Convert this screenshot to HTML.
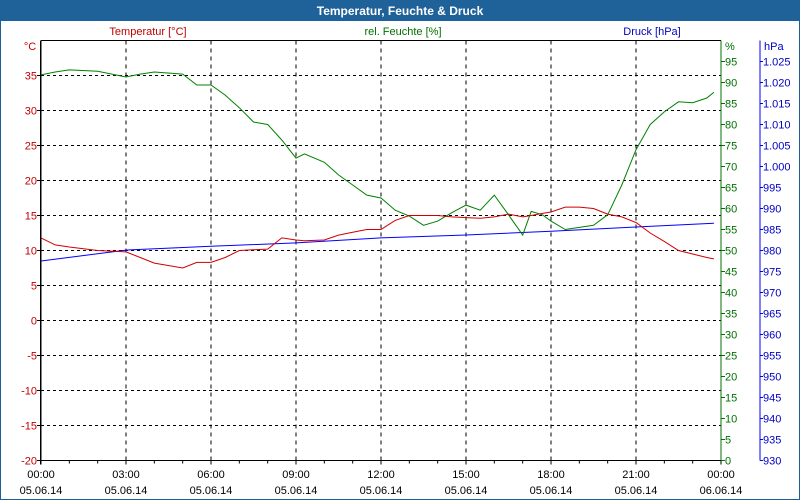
<!DOCTYPE html>
<html><head><meta charset="utf-8"><style>
body{margin:0;background:#fff;}
#wrap{position:relative;width:800px;height:500px;overflow:hidden;font-family:"Liberation Sans",sans-serif;}
svg text{font-family:"Liberation Sans",sans-serif;font-size:11px;}
</style></head><body>
<div id="wrap">
<svg id="c" width="800" height="500">
<rect x="0.5" y="0.5" width="799" height="499" fill="#fff" stroke="#1f5f96"/>
<rect x="0" y="0" width="800" height="21" fill="#1f6199"/>
<text x="400" y="15" text-anchor="middle" fill="#fff" font-weight="bold" style="font-size:12px">Temperatur, Feuchte &amp; Druck</text>
<text x="148" y="35" text-anchor="middle" fill="#c00000">Temperatur [°C]</text>
<text x="403" y="35" text-anchor="middle" fill="#007000">rel. Feuchte [%]</text>
<text x="652" y="35" text-anchor="middle" fill="#0000c0">Druck [hPa]</text>
<text x="30" y="50" text-anchor="middle" fill="#c00000">°C</text>
<text x="725" y="50" fill="#007000">%</text>
<text x="764" y="50" fill="#0000c0">hPa</text>
<g id="g"></g>
</svg>
</div>
<script>
const hours = [0,0.5,1,2,3,3.5,4,5,5.5,6,6.5,7,7.5,8,8.5,9,9.3,10,10.5,11,11.5,12,12.5,13,13.5,14,14.5,15,15.5,16,16.5,17,17.3,17.7,18,18.5,19,19.5,20,20.5,21,21.5,22,22.5,23,23.5,23.75];
const tempValues = [11.8,10.8,10.5,10.0,9.8,9.0,8.2,7.5,8.3,8.3,9.0,10.0,10.1,10.2,11.8,11.5,11.4,11.5,12.2,12.6,13.0,13.0,14.3,15.0,15.0,15.0,14.8,14.7,14.6,14.8,15.2,14.8,15.0,15.3,15.5,16.2,16.2,16.0,15.2,14.8,14.0,12.5,11.3,10.0,9.5,9.0,8.8];
const humValues = [91.8,92.5,93,92.7,91.3,92,92.5,92,89.4,89.4,87,84,80.6,80,76.3,72,73,71,68,65.6,63.2,62.5,59.6,58.2,56,57,59,60.8,59.6,63.2,58.5,53.7,59.3,58.5,57,55,55.5,56,58.5,65.6,74,80,83,85.4,85.2,86.3,87.7];
const presHours = [0,3,6,9,12,15,18,21,23.75];
const presValues = [977.5,980.1,981,981.8,983,983.7,984.6,985.6,986.5];
const tempTicks = [35,30,25,20,15,10,5,0,-5,-10,-15,-20];
const humTicks = [95,90,85,80,75,70,65,60,55,50,45,40,35,30,25,20,15,10,5,0];
const presTicks = ["1.025","1.020","1.015","1.010","1.005","1.000","995","990","985","980","975","970","965","960","955","950","945","940","935","930"];
const timeLabels = ["00:00","03:00","06:00","09:00","12:00","15:00","18:00","21:00","00:00"];
const dateLabels = ["05.06.14","05.06.14","05.06.14","05.06.14","05.06.14","05.06.14","05.06.14","05.06.14","06.06.14"];

const L=41,R=721,T=40.5,B=460.5;
const xS=h=>L+h*(R-L)/24;
const yT=v=>T+(40-v)*(B-T)/60;
const yH=v=>B-v*(B-T)/100;
const yP=v=>B-(v-930)*(B-T)/100;
const g=document.getElementById('g');
const NS='http://www.w3.org/2000/svg';
function mk(tag,attrs){const e=document.createElementNS(NS,tag);for(const k in attrs)e.setAttribute(k,attrs[k]);g.appendChild(e);return e;}

// grid
tempTicks.forEach(v=>{ if(v===-20) return;
  const e=mk('line',{x1:L,x2:R,y1:yT(v),y2:yT(v),stroke:'#000','stroke-dasharray':'3,3'});
  
  
});
for(let i=1;i<8;i++){
  const e=mk('line',{x1:xS(i*3),x2:xS(i*3),y1:T,y2:B,stroke:'#000','stroke-dasharray':'4,4'});
  
  
}
// axes
let a=mk('line',{x1:L-0.5,x2:L-0.5,y1:T,y2:B+4,stroke:'#000'});

a=mk('line',{x1:L-4,x2:R,y1:B,y2:B,stroke:'#000'});

a=mk('line',{x1:R,x2:R,y1:T,y2:B+3,stroke:'#007000'});

a=mk('line',{x1:760,x2:760,y1:T,y2:B,stroke:'#0000ff'});

a=mk('line',{x1:L,x2:L,y1:T,y2:B,stroke:'#000'});

a=mk('line',{x1:L,x2:R,y1:T,y2:T,stroke:'#000'});

for(let h=0;h<=24;h++){
  const e=mk('line',{x1:xS(h),x2:xS(h),y1:B,y2:B+(h%3===0?4:3),stroke:'#000'});
  
  
}
tempTicks.forEach(v=>{
  const t=mk('text',{x:37,y:yT(v)+4,'text-anchor':'end',fill:'#c00000'});t.textContent=v;
  
  
  const k=mk('line',{x1:L-4,x2:L,y1:yT(v),y2:yT(v),stroke:'#000'});
  
  
});
humTicks.forEach(v=>{
  const t=mk('text',{x:725,y:yH(v)+4,fill:'#007000'});t.textContent=v;
  
  
  const k=mk('line',{x1:R,x2:R+4,y1:yH(v),y2:yH(v),stroke:'#007000'});
  
  
});
presTicks.forEach((s,i)=>{
  const v=1025-i*5;
  const t=mk('text',{x:763,y:yP(v)+4,fill:'#0000c0'});t.textContent=s;
  
  
  const k=mk('line',{x1:760,x2:763,y1:yP(v),y2:yP(v),stroke:'#0000ff'});
  
  
});
timeLabels.forEach((s,i)=>{
  const t=mk('text',{x:xS(i*3),y:478,'text-anchor':'middle',fill:'#000'});t.textContent=s;
  
  
  const d=mk('text',{x:xS(i*3),y:494,'text-anchor':'middle',fill:'#000'});d.textContent=dateLabels[i];
  
  
});
function line(xs,vals,yf,col,name){
  const p=xs.map((h,i)=>xS(h).toFixed(1)+','+yf(vals[i]).toFixed(1)).join(' ');
  const e=mk('polyline',{points:p,fill:'none',stroke:col,'stroke-width':1});
  
  
}
line(presHours,presValues,yP,'#0000ff','pressure-line');
line(hours,humValues,yH,'#008000','humidity-line');
line(hours,tempValues,yT,'#d00000','temperature-line');
</script>
</body></html>
